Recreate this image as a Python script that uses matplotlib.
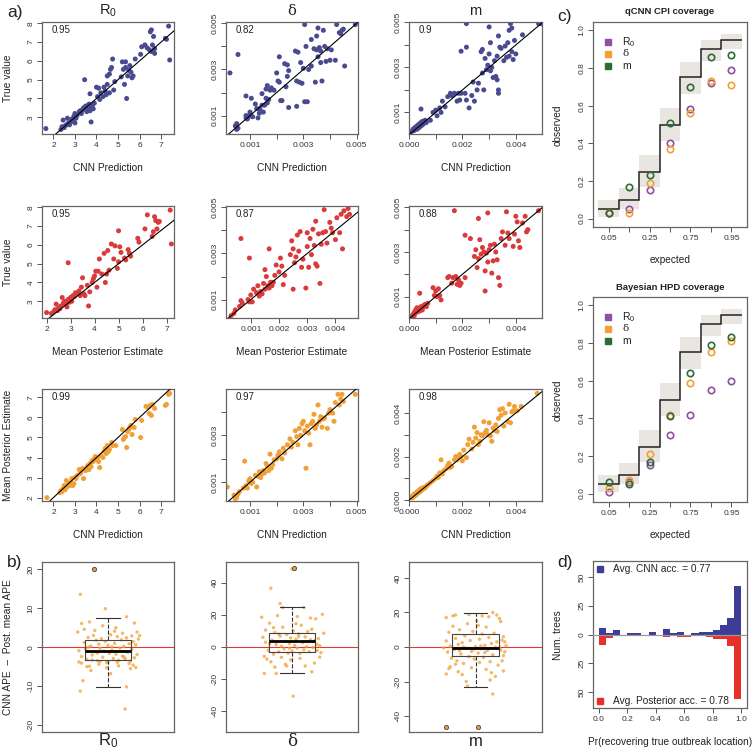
import matplotlib
matplotlib.use('Agg')
import matplotlib.pyplot as plt
import numpy as np
from matplotlib.patches import Rectangle

plt.rcParams['font.family'] = ['Liberation Sans', 'DejaVu Sans']
plt.rcParams['mathtext.fontset'] = 'custom'
plt.rcParams['mathtext.rm'] = 'Liberation Sans'
plt.rcParams['mathtext.default'] = 'regular'

# ---------------- DATA ----------------
# panel titles / correlations
PARAMS = ['R$_0$', 'δ', 'm']
CORR_ROW1 = ['0.95', '0.82', '0.9']
CORR_ROW2 = ['0.95', '0.87', '0.88']
CORR_ROW3 = ['0.99', '0.97', '0.98']

# Row 1: CNN prediction (x) vs true value (y)
R0_CNN_TRUE = np.array([
    (1.65,2.4),(2.35,2.35),(2.4,2.5),(2.45,2.85),(2.5,2.45),(2.55,2.55),(2.6,2.6),(2.65,2.95),(2.7,2.7),
    (2.75,2.6),(2.8,2.75),(2.85,2.9),(2.9,2.8),(2.95,3.05),(3.0,2.7),(3.0,3.2),(3.05,2.95),(3.1,3.1),
    (3.2,3.3),(3.25,3.35),(3.3,3.2),(3.35,3.4),(3.4,3.5),(3.45,5.0),(3.5,3.6),(3.55,3.3),(3.6,3.45),
    (3.65,3.7),(3.7,3.35),(3.7,4.25),(3.75,2.75),(3.75,3.5),(3.8,3.6),(3.85,3.45),(3.9,3.75),(4.0,4.6),
    (4.05,4.1),(4.1,4.55),(4.15,3.95),(4.2,4.3),(4.3,4.1),(4.35,4.6),(4.4,4.4),(4.45,4.2),(4.5,4.75),
    (4.5,5.2),(4.6,5.3),(4.6,4.3),(4.65,5.55),(4.7,5.65),(4.75,6.1),(4.8,4.45),(4.85,4.9),(5.15,5.15),
    (5.2,5.95),(5.25,5.55),(5.3,4.75),(5.35,5.65),(5.35,5.95),(5.4,4.0),(5.45,5.2),(5.5,5.5),(5.55,5.75),
    (5.6,5.4),(5.65,5.1),(5.7,5.2),(5.8,6.1),(6.05,6.35),(6.1,6.75),(6.25,6.85),(6.35,6.7),(6.45,6.6),
    (6.5,7.55),(6.55,7.65),(6.55,6.5),(6.6,6.85),(6.65,7.3),(6.7,6.4),(6.7,6.65),(7.2,7.2),(7.25,7.15),
    (7.35,7.85),(7.4,6.05)])
# delta and m values below are in units of 1e-3
DELTA_CNN_TRUE = np.array([
    (0.25,2.85),(0.55,3.65),(0.45,0.55),(0.5,0.4),(0.55,0.45),(0.5,0.65),(0.85,0.9),(0.85,1.0),(0.9,0.85),
    (0.95,0.95),(1.0,1.05),(0.85,1.85),(1.0,1.15),(1.1,0.95),(1.05,1.75),(1.2,1.5),(1.25,1.3),(1.3,0.9),
    (1.35,1.3),(1.35,1.1),(1.4,1.2),(1.45,1.45),(1.45,1.95),(1.5,1.15),(1.55,1.45),(1.6,2.15),(1.6,1.75),
    (1.65,2.3),(1.65,1.55),(1.7,1.7),(1.75,2.1),(1.8,2.2),(1.9,2.1),(2.0,2.85),(2.05,2.5),(2.1,2.45),
    (2.1,3.55),(2.15,1.65),(2.2,1.65),(2.3,3.25),(2.35,2.25),(2.4,3.2),(2.45,1.35),(2.45,2.95),(2.4,2.7),
    (2.7,3.8),(2.75,2.5),(2.75,1.4),(2.8,3.75),(2.85,2.45),(2.9,3.3),(2.95,2.4),(3.0,3.05),(3.05,4.95),
    (3.05,1.6),(3.1,4.0),(3.15,1.6),(3.2,3.0),(3.3,3.15),(3.3,4.3),(3.4,3.9),(3.45,2.45),(3.5,4.45),
    (3.5,3.85),(3.55,4.8),(3.55,3.55),(3.6,3.95),(3.65,3.8),(3.65,3.3),(3.7,2.5),(3.75,4.7),(3.8,4.0),
    (3.85,3.35),(3.9,3.9),(4.0,3.4),(4.05,3.85),(4.2,3.4),(4.25,4.95),(4.35,4.6),(4.4,4.55),(4.45,4.7),
    (4.5,4.75),(4.55,3.15),(4.95,4.95)])
M_CNN_TRUE = np.array([
    (0.1,0.15),(0.15,0.25),(0.2,0.3),(0.2,0.2),(0.25,0.35),(0.3,0.4),(0.3,0.25),(0.35,0.45),(0.35,0.3),
    (0.4,0.5),(0.4,0.35),(0.45,0.55),(0.45,0.4),(0.5,0.6),(0.5,0.45),(0.55,0.5),(0.6,0.65),(0.65,0.55),
    (0.45,1.15),(0.8,0.65),(0.9,1.0),(1.0,1.1),(1.05,0.85),(1.15,1.2),(1.2,1.0),(1.25,1.5),(1.35,1.25),
    (1.45,1.7),(1.55,1.85),(1.6,1.75),(1.7,1.85),(1.8,1.5),(1.85,1.85),(1.9,1.55),(1.95,1.85),(2.1,1.85),
    (2.15,1.55),(2.25,1.2),(2.35,1.75),(2.45,1.5),(1.95,3.72),(2.15,3.9),(2.15,4.95),(2.4,2.35),(2.55,2.0),
    (2.6,2.3),(2.7,3.7),(2.75,3.8),(2.75,2.75),(2.8,2.0),(2.85,3.4),(2.9,2.9),(2.95,3.1),(3.0,3.6),
    (3.0,4.8),(3.05,2.85),(3.05,4.1),(3.1,3.0),(3.15,2.55),(3.2,3.3),(3.25,2.6),(3.3,2.45),(3.3,3.5),
    (3.35,2.0),(3.35,1.85),(3.35,4.4),(3.4,3.9),(3.45,3.85),(3.55,3.3),(3.6,3.95),(3.65,3.45),(3.7,4.1),
    (3.75,4.65),(3.75,3.5),(3.8,4.95),(3.85,4.75),(3.85,3.7),(3.9,3.35),(3.95,4.2),(4.0,3.6),(4.25,4.45),
    (4.85,4.95),(4.95,4.95)])

# Row 2: mean posterior estimate (x) vs true value (y)
R0_POST_TRUE = np.array([
    (2.0,2.4),(2.2,2.35),(2.3,2.45),(2.35,2.55),(2.4,2.85),(2.45,2.5),(2.5,2.65),(2.55,2.6),(2.6,2.75),
    (2.65,3.2),(2.7,2.9),(2.75,3.0),(2.8,2.85),(2.85,2.7),(2.9,3.1),(2.9,5.05),(2.95,2.95),(3.0,3.2),
    (3.05,3.0),(3.1,3.3),(3.15,3.25),(3.2,3.45),(3.3,3.4),(3.35,3.55),(3.4,3.3),(3.45,3.75),(3.5,4.25),
    (3.55,3.4),(3.6,3.3),(3.7,3.85),(3.75,2.75),(3.8,3.5),(3.9,4.0),(3.95,4.2),(4.0,4.35),(4.05,4.6),
    (4.1,3.75),(4.15,4.6),(4.2,5.25),(4.3,4.45),(4.4,5.55),(4.45,4.0),(4.5,4.45),(4.55,5.7),(4.6,4.65),
    (4.7,6.05),(4.8,5.25),(4.85,5.95),(4.95,4.75),(5.0,6.75),(5.0,5.1),(5.05,5.9),(5.1,5.6),(5.25,5.3),
    (5.3,5.2),(5.4,5.75),(5.45,5.55),(5.5,5.4),(5.8,6.35),(5.85,6.15),(6.1,6.85),(6.2,7.6),(6.4,6.45),
    (6.45,6.7),(6.5,7.5),(6.55,7.3),(6.6,6.85),(6.65,7.2),(6.7,7.25),(7.15,7.85),(7.2,6.05)])
DELTA_POST_TRUE = np.array([
    (0.3,0.3),(0.4,0.4),(0.45,0.55),(0.6,0.7),(0.65,0.95),(0.7,0.85),(0.65,3.65),(0.9,1.0),(0.95,2.8),
    (0.95,0.9),(1.0,1.2),(1.05,0.9),(1.1,1.45),(1.2,1.3),(1.25,1.6),(1.3,1.15),(1.35,1.35),(1.4,1.25),
    (1.45,1.7),(1.5,2.3),(1.5,1.45),(1.55,2.0),(1.6,1.6),(1.65,3.2),(1.65,1.5),(1.7,1.75),(1.75,1.6),
    (1.8,1.75),(1.85,2.05),(1.9,2.5),(2.0,2.2),(2.05,2.8),(2.1,2.45),(2.15,1.65),(2.2,2.05),(2.4,2.95),
    (2.45,3.55),(2.5,3.2),(2.5,1.45),(2.55,2.6),(2.6,2.85),(2.65,3.8),(2.7,3.1),(2.75,3.95),(2.8,2.4),
    (2.85,2.75),(2.95,1.5),(3.0,3.3),(3.0,3.9),(3.05,2.4),(3.1,3.65),(3.15,2.95),(3.2,4.05),(3.25,3.35),
    (3.3,2.55),(3.3,4.4),(3.35,2.45),(3.4,3.85),(3.45,1.7),(3.5,3.4),(3.55,3.9),(3.6,4.9),(3.65,3.95),
    (3.7,3.45),(3.8,4.35),(3.85,4.1),(3.9,3.9),(4.0,3.6),(4.05,4.55),(4.15,3.9),(4.2,4.7),(4.25,3.2),
    (4.3,4.85),(4.4,4.6),(4.45,4.95),(4.5,4.7)])
M_POST_TRUE = np.array([
    (0.1,0.1),(0.15,0.2),(0.2,0.3),(0.2,0.15),(0.25,0.4),(0.3,0.3),(0.3,0.5),(0.35,0.45),(0.4,0.35),
    (0.4,1.15),(0.45,0.55),(0.5,0.5),(0.5,0.4),(0.55,0.6),(0.6,0.65),(0.65,0.55),(0.7,0.7),(0.9,1.4),
    (0.95,1.05),(1.0,1.25),(1.05,1.0),(1.1,1.35),(1.15,1.05),(1.2,0.85),(1.45,1.85),(1.5,1.9),(1.6,1.6),
    (1.65,1.85),(1.7,4.85),(1.75,1.9),(1.8,1.55),(1.85,1.75),(1.9,1.5),(1.95,1.6),(2.1,3.75),(2.1,1.85),
    (2.3,3.6),(2.45,2.8),(2.5,3.1),(2.55,2.3),(2.6,2.7),(2.6,4.5),(2.65,3.55),(2.7,2.9),(2.75,3.2),
    (2.8,3.0),(2.85,1.25),(2.85,2.15),(2.9,2.95),(2.95,4.75),(2.95,2.55),(3.0,3.1),(3.05,3.3),(3.1,2.05),
    (3.15,2.6),(3.2,3.35),(3.25,3.0),(3.3,2.65),(3.35,1.85),(3.4,1.5),(3.45,3.6),(3.5,3.9),(3.6,3.3),
    (3.65,4.8),(3.7,3.85),(3.75,3.6),(3.9,3.25),(3.95,3.8),(4.0,4.6),(4.05,4.35),(4.1,3.5),(4.15,3.2),
    (4.25,4.3),(4.35,4.6),(4.4,3.9),(4.45,4.0),(4.85,4.85)])

# Row 3: CNN prediction (x) vs mean posterior estimate (y)
R0_CNN_POST = np.array([
    (1.7,2.0),(2.3,2.25),(2.35,2.35),(2.4,2.3),(2.45,2.45),(2.5,2.6),(2.55,2.4),(2.6,2.85),(2.65,2.55),
    (2.7,2.7),(2.75,2.6),(2.8,2.75),(2.85,2.95),(2.9,2.6),(2.95,2.7),(3.0,3.0),(3.05,2.95),(3.1,3.1),
    (3.2,3.4),(3.25,3.2),(3.3,3.3),(3.35,3.45),(3.4,2.95),(3.45,3.4),(3.5,3.35),(3.55,3.5),(3.6,3.6),
    (3.65,3.4),(3.7,3.7),(3.75,3.55),(3.8,3.85),(3.85,3.8),(3.9,3.95),(3.95,4.05),(4.0,3.9),(4.05,4.0),
    (4.1,3.8),(4.15,3.5),(4.2,4.1),(4.3,4.0),(4.35,4.3),(4.4,4.45),(4.45,4.2),(4.5,4.6),(4.55,4.3),
    (4.6,4.4),(4.7,4.75),(4.75,4.6),(4.9,4.6),(5.2,5.4),(5.25,4.9),(5.3,5.0),(5.35,5.05),(5.4,4.5),
    (5.45,5.3),(5.5,5.4),(5.55,5.5),(5.6,5.6),(5.65,5.15),(5.75,5.5),(5.8,5.9),(6.05,5.0),(6.1,5.85),
    (6.3,6.55),(6.4,6.5),(6.45,6.2),(6.5,6.6),(6.55,6.1),(6.6,6.65),(6.7,6.45),(7.2,6.6),(7.25,6.65),
    (7.35,7.15),(7.4,7.2)])
DELTA_CNN_POST = np.array([
    (0.15,0.8),(0.4,0.45),(0.45,0.3),(0.5,0.35),(0.55,0.5),(0.6,0.6),(0.75,0.75),(0.8,1.9),(0.85,0.85),
    (0.9,0.75),(0.95,1.05),(1.0,1.15),(1.05,0.95),(1.1,1.0),(1.2,1.3),(1.25,0.8),(1.3,1.25),(1.35,1.45),
    (1.4,1.2),(1.45,1.35),(1.5,1.5),(1.55,1.4),(1.6,1.8),(1.65,1.7),(1.7,1.5),(1.75,2.2),(1.8,1.6),
    (1.85,1.75),(1.9,1.95),(2.0,2.0),(2.05,2.15),(2.1,2.3),(2.2,2.0),(2.25,2.45),(2.3,2.25),(2.4,2.6),
    (2.5,2.85),(2.55,2.5),(2.6,2.7),(2.7,3.2),(2.75,2.95),(2.8,2.6),(2.85,3.3),(2.9,3.0),(2.95,3.5),
    (3.0,3.6),(3.05,3.2),(3.1,1.6),(3.15,3.4),(3.2,3.1),(3.25,2.6),(3.3,3.5),(3.35,3.6),(3.4,3.9),
    (3.45,3.3),(3.5,3.45),(3.55,4.3),(3.6,3.6),(3.65,3.8),(3.7,3.35),(3.75,3.7),(3.8,3.75),(3.9,3.3),
    (3.95,3.95),(4.0,4.1),(4.1,3.95),(4.15,3.6),(4.2,4.4),(4.3,4.75),(4.35,4.3),(4.4,4.55),(4.45,4.75),
    (4.5,4.45),(4.95,4.75)])
M_CNN_POST = np.array([
    (0.1,0.1),(0.12,0.18),(0.15,0.12),(0.18,0.25),(0.2,0.2),(0.22,0.3),(0.25,0.22),(0.28,0.35),(0.3,0.3),
    (0.32,0.4),(0.35,0.33),(0.38,0.45),(0.4,0.38),(0.42,0.5),(0.45,0.42),(0.48,0.55),(0.5,0.48),(0.55,0.58),
    (0.6,0.55),(0.65,0.65),(0.7,0.7),(0.8,0.8),(0.9,0.9),(1.0,1.0),(1.05,1.1),(1.1,1.05),(1.15,1.25),
    (1.2,1.85),(1.25,1.2),(1.3,1.35),(1.4,1.45),(1.45,1.6),(1.5,1.7),(1.55,1.5),(1.6,1.55),(1.7,1.85),
    (1.75,2.0),(1.8,1.85),(1.85,1.95),(1.9,2.1),(1.95,2.0),(2.0,1.8),(2.05,2.3),(2.15,1.95),(2.2,2.55),
    (2.25,2.8),(2.35,2.35),(2.4,2.65),(2.45,3.35),(2.5,2.85),(2.55,3.1),(2.6,2.55),(2.65,2.7),(2.7,3.0),
    (2.75,2.95),(2.8,3.6),(2.85,3.1),(2.9,3.2),(2.95,3.0),(3.0,3.55),(3.05,2.95),(3.1,2.7),(3.15,3.3),
    (3.2,3.2),(3.25,3.45),(3.3,3.15),(3.35,3.75),(3.4,4.15),(3.45,3.9),(3.5,4.2),(3.55,3.4),(3.6,4.0),
    (3.7,3.6),(3.75,4.4),(3.8,3.55),(3.85,4.05),(3.9,4.1),(3.95,4.3),(4.05,4.1),(4.2,4.3),(4.8,4.9)])

# Panel b: CNN APE - posterior mean APE, (jitter position, value)
R0_APE_DIFF = np.array([
    (0.79,13.6),(0.98,9.9),(0.80,6.1),(0.86,6.5),(0.77,3.9),(1.06,5.0),(1.20,6.2),(1.22,3.9),(1.14,7.8),
    (0.81,-8.6),(0.79,-11.3),(1.14,-10.2),(1.13,-15.9),(1.17,-5.5),(1.19,-4.6),(0.84,-5.0),(0.86,-4.9),
    (0.895,20.1),(0.78,-3.8),(0.80,-4.1),(0.82,1.2),(0.83,-0.5),(0.85,2.5),(0.87,0.3),(0.88,-2.0),(0.89,3.0),
    (0.90,-1.2),(0.91,1.8),(0.92,-3.5),(0.93,0.8),(0.94,-0.3),(0.95,2.2),(0.96,-2.6),(0.97,-1.0),(0.98,1.5),
    (0.99,-3.9),(1.00,0.5),(1.01,-1.6),(1.02,3.2),(1.03,-0.8),(1.04,-2.9),(1.05,1.0),(1.06,-1.8),(1.07,2.7),
    (1.08,-3.4),(1.09,-0.2),(1.10,1.9),(1.11,-2.3),(1.12,0.2),(1.13,-3.0),(1.14,2.4),(1.15,-1.3),(1.16,0.9),
    (1.17,-3.6),(1.18,-0.6),(1.19,1.4),(1.20,-2.7),(1.21,0.6),(1.22,-1.9),(1.23,2.1),(0.78,-0.9),(0.80,-2.4),
    (0.82,4.6),(0.84,-3.1),(0.87,-6.0),(0.90,4.3),(0.93,-4.4),(0.96,5.5),(0.99,-5.3),(1.02,-6.8),(1.05,4.1),
    (1.08,-4.8),(1.11,3.6),(1.16,-4.2),(1.21,-5.2),(1.24,3.0),(0.88,-3.3),(0.94,-3.7),(1.00,-4.0),(1.07,-3.9),
    (1.13,-1.1),(1.18,2.9),(0.85,0.0),(0.92,-1.5),(1.03,0.1),(1.12,-2.5)])
DELTA_APE_DIFF = np.array([
    (0.84,36.5),(0.91,27.0),(1.04,18.9),(0.77,18.5),(1.23,20.3),(1.24,8.5),(0.79,-16.4),(0.88,-16.4),
    (1.01,-30.5),(1.15,-15.4),(0.96,-11.8),(0.95,-10.8),(1.00,48.5),(0.78,6.0),(0.80,10.5),(0.82,-2.0),
    (0.83,14.8),(0.85,4.2),(0.86,-4.5),(0.87,9.0),(0.88,1.5),(0.89,19.5),(0.90,-3.0),(0.91,6.8),(0.92,0.5),
    (0.93,12.3),(0.94,-1.2),(0.95,3.5),(0.96,7.7),(0.97,-3.8),(0.98,2.2),(0.99,5.6),(1.00,-2.5),(1.01,10.0),
    (1.02,1.0),(1.03,4.8),(1.04,-0.7),(1.05,8.2),(1.06,-4.0),(1.07,13.5),(1.08,2.8),(1.09,-1.8),(1.10,6.3),
    (1.11,0.2),(1.12,9.6),(1.13,-2.9),(1.14,4.5),(1.15,11.0),(1.16,-0.3),(1.17,3.9),(1.18,17.5),(1.19,-2.2),
    (1.20,5.2),(1.21,0.8),(1.22,-3.5),(0.79,-5.8),(0.81,-7.5),(0.84,-9.2),(0.87,-12.5),(0.92,-6.4),
    (0.99,-8.0),(1.06,-7.1),(1.10,-11.8),(1.17,-10.0),(1.21,-6.3),(0.80,3.0),(0.86,12.0),(0.93,24.5),
    (1.03,14.5),(1.09,24.5),(1.14,18.0),(0.83,2.0),(0.98,-0.8),(1.12,3.3),(1.19,1.7),(0.90,8.0),(1.05,6.5)])
M_APE_DIFF = np.array([
    (0.78,17.0),(0.85,18.5),(1.05,18.0),(1.13,20.0),(1.16,18.5),(1.19,14.7),(1.21,6.0),(1.22,3.0),
    (0.78,-15.6),(0.81,-11.4),(0.87,-14.3),(0.93,-20.0),(0.94,-22.6),(1.12,-14.9),(1.13,-27.2),(1.11,-19.1),
    (1.21,-13.9),(0.76,-0.5),(0.78,3.5),(0.79,-3.0),(0.80,8.5),(0.81,0.5),(0.82,-6.5),(0.83,12.0),
    (0.84,-1.5),(0.85,5.0),(0.86,-8.0),(0.87,1.5),(0.88,10.0),(0.89,-4.0),(0.90,2.5),(0.91,-9.5),(0.92,6.5),
    (0.93,-0.8),(0.94,13.5),(0.95,-5.5),(0.96,3.8),(0.97,-2.5),(0.98,9.0),(0.99,-7.0),(1.00,0.2),(1.01,15.0),
    (1.02,-3.5),(1.03,4.5),(1.04,-1.0),(1.05,7.5),(1.06,-6.0),(1.07,1.0),(1.08,11.5),(1.09,-2.0),(1.10,5.5),
    (1.11,-8.5),(1.12,2.0),(1.13,-4.5),(1.14,8.0),(1.15,-0.2),(1.16,3.0),(1.17,-10.5),(1.18,16.5),(1.19,-1.8),
    (1.20,4.0),(1.21,-5.0),(1.22,-2.8),(1.23,0.8),(0.80,-12.5),(0.85,-10.0),(0.90,-16.0),(0.97,-12.0),
    (1.03,-9.0),(1.08,-13.0),(1.15,-17.0),(1.20,-8.0),(0.83,18.0),(0.95,18.8),(1.02,12.5),(1.10,17.5),
    (0.88,-2.2),(0.99,-1.2),(1.07,-3.2),(1.18,-0.6),(0.91,0.0),(1.04,0.6)])
# outliers marked by the boxplot (position, value)
R0_OUT = np.array([(0.895,20.1)])
DELTA_OUT = np.array([(1.018,49.2)])
M_OUT = np.array([(0.777,-46.1),(1.016,-46.1)])
# box statistics: (whislo, q1, med, q3, whishi)
R0_BOX = (-10.2, -3.2, -0.85, 1.9, 7.6)
DELTA_BOX = (-16.4, -3.3, 3.7, 8.5, 24.7)
M_BOX = (-23.0, -5.2, -0.6, 7.3, 19.9)

# Panel c: coverage
CPI_LEVELS = [0.05, 0.1, 0.25, 0.5, 0.75, 0.9, 0.95]
CPI_TICKLABELS = ['0.05', '', '0.25', '', '0.75', '', '0.95']
BAND_LO = [0.01, 0.05, 0.17, 0.41, 0.66, 0.84, 0.90]
BAND_HI = [0.10, 0.16, 0.34, 0.59, 0.83, 0.95, 0.98]
QCNN_R0 = [0.03, 0.05, 0.15, 0.40, 0.58, 0.72, 0.79]
QCNN_DELTA = [0.03, 0.03, 0.19, 0.37, 0.56, 0.73, 0.71]
QCNN_M = [0.03, 0.17, 0.23, 0.51, 0.70, 0.86, 0.87]
HPD_R0 = [0.01, 0.06, 0.15, 0.31, 0.42, 0.55, 0.60]
HPD_DELTA = [0.03, 0.07, 0.21, 0.42, 0.59, 0.75, 0.81]
HPD_M = [0.06, 0.05, 0.17, 0.41, 0.64, 0.79, 0.83]

# Panel d: histogram of Pr(recovering true outbreak location)
BIN_CENTERS = [0.025, 0.075, 0.125, 0.175, 0.225, 0.275, 0.325, 0.375, 0.425, 0.475,
               0.525, 0.575, 0.625, 0.675, 0.725, 0.775, 0.825, 0.875, 0.925, 0.975]
CNN_COUNTS = [6, 1, 4, 0, 1, 1, 0, 2, 0, 5, 1, 2, 0, 1, 2, 2, 4, 8, 14, 42]
POST_COUNTS = [9, 3, 0, 0, 1, 1, 0, 1, 0, 2, 0, 2, 2, 1, 1, 2, 4, 4, 10, 56]

# ---------------- FIGURE ----------------
W, H = 754, 753
fig = plt.figure(figsize=(W / 100, H / 100), dpi=100)

BLUE = '#4A4A90'
RED = '#D93A3A'
ORANGE = '#F0A035'
PURPLE = '#8E4FA5'
GREEN = '#2F6B35'
BAR_BLUE = '#3D3D98'
BAR_RED = '#E8302A'
SPINE = '#666666'
TXT = '#333333'


def add_ax(x0, x1, y0, y1):
    return fig.add_axes([x0 / W, 1 - y1 / H, (x1 - x0) / W, (y1 - y0) / H])


def style(ax):
    for s in ax.spines.values():
        s.set_color(SPINE)
        s.set_linewidth(0.9)
    ax.tick_params(direction='out', length=3.5, width=0.7, colors='#555555',
                   labelsize=6, labelcolor=TXT, pad=2)


def ftext(x, y, s, **kw):
    kw.setdefault('ha', 'center')
    kw.setdefault('va', 'center')
    kw.setdefault('color', '#222222')
    fig.text(x / W, 1 - y / H, s, **kw)


COLS = [(42, 174), (226, 358), (409, 542)]
ROWS = [(22, 134), (206, 318), (389, 501)]


def fmt(v, dec):
    return ('%.' + str(dec) + 'f') % v


def scatter_panel(ax, data, scale, color, xlim, ylim, xt, xlab, yt, ylab, corr, dec):
    x = data[:, 0] * scale
    y = data[:, 1] * scale
    ax.scatter(x, y, s=13, color=color, edgecolors='none', zorder=2)
    lo = min(xlim[0], ylim[0]) - 1
    hi = max(xlim[1], ylim[1]) + 1
    ax.plot([lo, hi], [lo, hi], color='black', lw=0.8, zorder=3)
    ax.set_xlim(xlim)
    ax.set_ylim(ylim)
    ax.set_xticks(xt)
    ax.set_xticklabels([fmt(v, dec) if v in xlab else '' for v in xt])
    ax.set_yticks(yt)
    ax.set_yticklabels([fmt(v, dec) if v in ylab else '' for v in yt], rotation=90, va='center')
    ax.text(0.075, 0.975, corr, transform=ax.transAxes, ha='left', va='top', fontsize=7, color='#222222')
    style(ax)


e = 1e-3
r0x = [2, 3, 4, 5, 6, 7]
d5 = [0.001, 0.002, 0.003, 0.004, 0.005]
d4 = [0.001, 0.002, 0.003, 0.004]
m5 = [0.0, 0.001, 0.002, 0.003, 0.004]
odd = [0.001, 0.003, 0.005]
even = [0.0, 0.002, 0.004]

# Row 1
ax = add_ax(*COLS[0], *ROWS[0])
scatter_panel(ax, R0_CNN_TRUE, 1, BLUE, (1.47, 7.6), (2.11, 8.07), r0x, r0x, [3, 4, 5, 6, 7, 8], [3, 4, 5, 6, 7, 8], CORR_ROW1[0], 0)
ax = add_ax(*COLS[1], *ROWS[0])
scatter_panel(ax, DELTA_CNN_TRUE, e, BLUE, (0.0001, 0.00505), (0.0002, 0.00506), d5, odd, d5, odd, CORR_ROW1[1], 3)
ax = add_ax(*COLS[2], *ROWS[0])
scatter_panel(ax, M_CNN_TRUE, e, BLUE, (0.0, 0.00498), (0.00004, 0.00502), m5, even, d5, odd, CORR_ROW1[2], 3)
# Row 2
ax = add_ax(*COLS[0], *ROWS[1])
scatter_panel(ax, R0_POST_TRUE, 1, RED, (1.81, 7.31), (2.11, 8.07), r0x, r0x, [3, 4, 5, 6, 7, 8], [3, 4, 5, 6, 7, 8], CORR_ROW2[0], 0)
ax = add_ax(*COLS[1], *ROWS[1])
scatter_panel(ax, DELTA_POST_TRUE, e, RED, (0.00012, 0.0048), (0.0002, 0.00506), d4, d4, d5, odd, CORR_ROW2[1], 3)
ax = add_ax(*COLS[2], *ROWS[1])
scatter_panel(ax, M_POST_TRUE, e, RED, (0.0, 0.00498), (0.00004, 0.00506), m5, even, d5, odd, CORR_ROW2[2], 3)
# Row 3
ax = add_ax(*COLS[0], *ROWS[2])
scatter_panel(ax, R0_CNN_POST, 1, ORANGE, (1.47, 7.6), (1.83, 7.42), r0x, r0x, [2, 3, 4, 5, 6, 7], [2, 3, 4, 5, 6, 7], CORR_ROW3[0], 0)
ax = add_ax(*COLS[1], *ROWS[2])
scatter_panel(ax, DELTA_CNN_POST, e, ORANGE, (0.0001, 0.00505), (0.0002, 0.00498), d5, odd, d4, odd, CORR_ROW3[1], 3)
ax = add_ax(*COLS[2], *ROWS[2])
scatter_panel(ax, M_CNN_POST, e, ORANGE, (0.0, 0.00498), (-0.00004, 0.0051), m5, even, m5, even, CORR_ROW3[2], 3)

# Panel b
B_ROW = (562, 732)


def box_panel(ax, pts, outs, box, ylim, yt):
    ax.axhline(0, color='#E03A2E', lw=0.8, zorder=1)
    ax.scatter(pts[:, 0], pts[:, 1], s=6, color=ORANGE, alpha=0.75, edgecolors='none', zorder=1.5)
    stats = dict(whislo=box[0], q1=box[1], med=box[2], q3=box[3], whishi=box[4], fliers=[])
    ax.bxp([stats], positions=[1], widths=0.35, showfliers=False,
           boxprops=dict(color='#444444', lw=0.8),
           whiskerprops=dict(color='#333333', lw=0.8, ls='--'),
           capprops=dict(color='#333333', lw=0.8),
           medianprops=dict(color='black', lw=2.0))
    ax.scatter(outs[:, 0], outs[:, 1], s=9, facecolor=ORANGE, edgecolor='#555555', lw=0.7, zorder=4)
    ax.set_xlim(0.5, 1.5)
    ax.set_ylim(ylim)
    ax.set_xticks([])
    ax.set_yticks(yt)
    ax.set_yticklabels([str(v) for v in yt], rotation=90, va='center')
    style(ax)


ax = add_ax(*COLS[0], *B_ROW)
box_panel(ax, R0_APE_DIFF, R0_OUT, R0_BOX, (-21.8, 21.9), [-20, -10, 0, 10, 20])
ax = add_ax(*COLS[1], *B_ROW)
box_panel(ax, DELTA_APE_DIFF, DELTA_OUT, DELTA_BOX, (-52.8, 52.8), [-40, -20, 0, 20, 40])
ax = add_ax(*COLS[2], *B_ROW)
box_panel(ax, M_APE_DIFF, M_OUT, M_BOX, (-49.2, 49.2), [-40, -20, 0, 20, 40])

# Panel c


def coverage_panel(ax, r0, dl, mm):
    pos = np.arange(1, len(CPI_LEVELS) + 1)
    for p, lo, hi in zip(pos, BAND_LO, BAND_HI):
        ax.add_patch(Rectangle((p - 0.5, lo), 1, hi - lo, facecolor='#E9E6E2', edgecolor='none', zorder=1))
    ax.stairs(CPI_LEVELS, np.arange(0.5, len(CPI_LEVELS) + 1.0, 1.0), baseline=None,
              color='#222222', lw=1.1, zorder=2)
    for vals, c in ((r0, PURPLE), (dl, ORANGE), (mm, GREEN)):
        ax.plot(pos, vals, ls='none', marker='o', ms=4.6, mfc='none', mec=c, mew=1.2, zorder=3)
    ax.set_xlim(0.24, 7.76)
    ax.set_ylim(-0.045, 1.045)
    ax.set_xticks(pos)
    ax.set_xticklabels(CPI_TICKLABELS)
    yt = [0.0, 0.2, 0.4, 0.6, 0.8, 1.0]
    ax.set_yticks(yt)
    ax.set_yticklabels(['%.1f' % v for v in yt], rotation=90, va='center')
    style(ax)
    labels = ['R$_0$', 'δ', 'm']
    fams = [['Liberation Sans', 'DejaVu Sans'], ['DejaVu Serif'], ['Liberation Sans', 'DejaVu Sans']]
    for yy, c, lab, fam in zip([0.904, 0.846, 0.787], [PURPLE, ORANGE, GREEN], labels, fams):
        ax.plot([0.097], [yy], marker='s', ms=4.5, color=c, transform=ax.transAxes, ls='none')
        ax.text(0.19, yy, lab, transform=ax.transAxes, ha='left', va='center', fontsize=7.5,
                color='#222222', family=fam)


ax = add_ax(593, 747, 22, 227)
coverage_panel(ax, QCNN_R0, QCNN_DELTA, QCNN_M)
ax = add_ax(593, 747, 297, 502)
coverage_panel(ax, HPD_R0, HPD_DELTA, HPD_M)

# Panel d
ax = add_ax(593, 747, 561, 708)
ax.bar(BIN_CENTERS, CNN_COUNTS, width=0.05, color=BAR_BLUE, edgecolor='none', zorder=2)
ax.bar(BIN_CENTERS, [-v for v in POST_COUNTS], width=0.05, color=BAR_RED, edgecolor='none', zorder=2)
ax.axhline(0, color='#999999', lw=0.9, zorder=3)
ax.set_xlim(-0.04, 1.04)
ax.set_ylim(-64, 64)
ax.set_xticks([0.0, 0.2, 0.4, 0.6, 0.8, 1.0])
ax.set_xticklabels(['0.0', '0.2', '0.4', '0.6', '0.8', '1.0'])
ax.set_yticks([-50, -25, 0, 25, 50])
ax.set_yticklabels(['50', '25', '0', '25', '50'], rotation=90, va='center')
style(ax)
ax.plot([0.045], [0.946], marker='s', ms=4.5, color=BAR_BLUE, transform=ax.transAxes, ls='none')
ax.text(0.13, 0.946, 'Avg. CNN acc. = 0.77', transform=ax.transAxes, ha='left', va='center', fontsize=7.3, color='#222222')
ax.plot([0.045], [0.048], marker='s', ms=4.5, color=BAR_RED, transform=ax.transAxes, ls='none')
ax.text(0.13, 0.048, 'Avg. Posterior acc. = 0.78', transform=ax.transAxes, ha='left', va='center', fontsize=7.3, color='#222222')

# ---------------- TEXT LABELS ----------------
col_c = [(a + b) / 2 for a, b in COLS]
for cx, p in zip(col_c, PARAMS):
    fam = ['DejaVu Serif'] if p == 'δ' else ['Liberation Sans', 'DejaVu Sans']
    ftext(cx, 11, p, fontsize=10.5, family=fam)
    ftext(cx, 741, p, fontsize=12, family=fam)
for cx in col_c:
    ftext(cx, 168, 'CNN Prediction', fontsize=7.3)
    ftext(cx, 352, 'Mean Posterior Estimate', fontsize=7.3)
    ftext(cx, 535, 'CNN Prediction', fontsize=7.3)
ftext(8, 78, 'True value', fontsize=7.3, rotation=90)
ftext(8, 262, 'True value', fontsize=7.3, rotation=90)
ftext(8, 445, 'Mean Posterior Estimate', fontsize=7.3, rotation=90)
ftext(8, 647, 'CNN APE  \u2013  Post. mean APE', fontsize=7.3, rotation=90)

ftext(670, 12, 'qCNN CPI coverage', fontsize=6.8, fontweight='bold')
ftext(670, 287, 'Bayesian HPD coverage', fontsize=6.8, fontweight='bold')
ftext(558, 125, 'observed', fontsize=7.3, rotation=90)
ftext(558, 400, 'observed', fontsize=7.3, rotation=90)
ftext(670, 260, 'expected', fontsize=7.3)
ftext(670, 535, 'expected', fontsize=7.3)
ftext(558, 635, 'Num. trees', fontsize=7.3, rotation=90)
ftext(670, 742, 'Pr(recovering true outbreak location)', fontsize=7.3)

ftext(15, 13, 'a)', fontsize=12.5)
ftext(15, 563, 'b)', fontsize=12.5)
ftext(565, 16, 'c)', fontsize=12.5)
ftext(565, 563, 'd)', fontsize=12.5)

fig.savefig('out.png', dpi=100)
